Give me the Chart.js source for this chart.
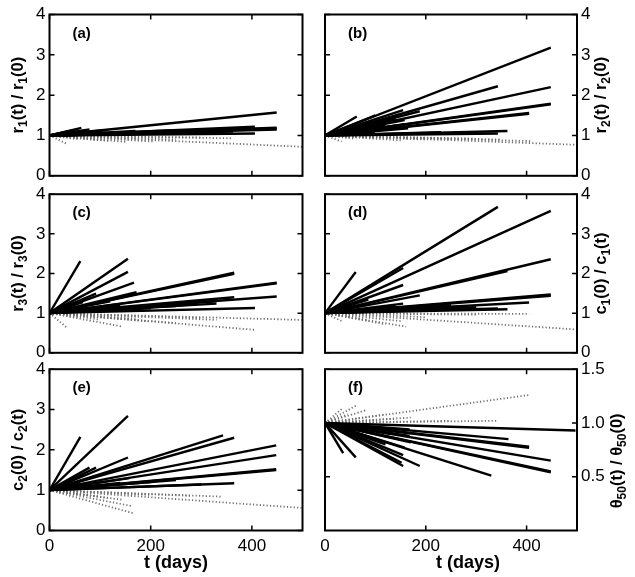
<!DOCTYPE html>
<html>
<head>
<meta charset="utf-8">
<script src="https://cdn.jsdelivr.net/npm/chart.js@4.4.1/dist/chart.umd.min.js"></script>
<style>
  body { margin: 0; background: #fff; }
  #page { position: relative; width: 635px; height: 577px; overflow: hidden; }
  .cell { position: absolute; }
</style>
</head>
<body>
<div id="page">
  <div class="cell" style="left:0;top:0;width:318px;height:190px"><canvas id="pa"></canvas></div>
  <div class="cell" style="left:306px;top:0;width:329px;height:190px"><canvas id="pb"></canvas></div>
  <div class="cell" style="left:0;top:180px;width:318px;height:187px"><canvas id="pc"></canvas></div>
  <div class="cell" style="left:306px;top:180px;width:329px;height:187px"><canvas id="pd"></canvas></div>
  <div class="cell" style="left:0;top:355px;width:318px;height:222px"><canvas id="pe"></canvas></div>
  <div class="cell" style="left:306px;top:355px;width:329px;height:222px"><canvas id="pf"></canvas></div>
</div>
<script>
// every run starts at t = 0 with ratio 1
const T_START = 0;
const RATIO_START = 1;

const xTicks = [0, 200, 400];
const yTicks = [0, 1, 2, 3, 4];
const yTicksF = [0.5, 1.0, 1.5];

// (a) r1(t)/r1(0)
const a_days = [449, 449, 449, 406, 406, 363, 330, 250, 165, 100, 79, 63, 40, 449, 406, 300, 200, 150, 130, 70, 170, 110, 90, 50];
const a_ratio = [1.57, 1.19, 1.15, 1.22, 1.05, 1.10, 1.12, 1.13, 1.08, 1.10, 1.15, 1.19, 1.10, 1.17, 1.18, 1.08, 1.05, 1.07, 1.06, 1.12, 1.11, 1.13, 1.09, 1.14];
const a_dotDays = [500, 360, 300, 205, 152, 100, 60, 33, 250, 180, 120, 80];
const a_dotRatio = [0.72, 0.93, 0.95, 0.85, 0.84, 0.88, 0.90, 0.80, 0.90, 0.92, 0.86, 0.92];

// (b) r2(t)/r2(0)
const b_days = [448, 343, 448, 448, 405, 63, 362, 343, 155, 188, 158, 165, 86, 99, 100, 120, 60, 448, 405, 230, 140, 80, 160, 110];
const b_ratio = [3.18, 2.22, 2.20, 1.79, 1.56, 1.47, 1.11, 1.05, 1.63, 1.60, 1.38, 1.18, 1.30, 1.10, 1.50, 1.25, 1.20, 1.77, 1.54, 1.08, 1.42, 1.15, 1.28, 1.20];
const b_dotDays = [497, 408, 297, 198, 150, 100, 33, 350, 250, 60];
const b_dotRatio = [0.77, 0.86, 0.92, 0.90, 0.88, 0.93, 0.85, 0.90, 0.91, 0.92];

// (c) r3(t)/r3(0)
const c_days = [61, 155, 155, 167, 365, 449, 449, 365, 406, 330, 330, 290, 172, 92, 66, 120, 200, 365, 449, 250, 140, 100];
const c_ratio = [2.31, 2.37, 2.04, 1.77, 2.02, 1.77, 1.42, 1.40, 1.13, 1.24, 1.30, 1.22, 1.53, 1.49, 1.28, 1.30, 1.12, 1.99, 1.75, 1.18, 1.20, 1.10];
const c_dotDays = [498, 406, 330, 250, 198, 145, 99, 33, 300, 170, 60];
const c_dotRatio = [0.83, 0.58, 0.83, 0.75, 0.79, 0.66, 0.84, 0.65, 0.88, 0.86, 0.90];

// (d) c1(0)/c1(t)
const d_days = [343, 448, 448, 362, 61, 155, 155, 188, 448, 405, 362, 343, 155, 86, 250, 120, 300, 448, 200, 100, 140];
const d_ratio = [3.68, 3.58, 2.36, 2.06, 2.04, 2.14, 1.71, 1.45, 1.47, 1.27, 1.10, 1.12, 1.24, 1.34, 1.20, 1.15, 1.15, 1.44, 1.08, 1.12, 1.18];
const d_dotDays = [497, 405, 161, 150, 120, 86, 33, 300, 200, 60];
const d_dotRatio = [0.59, 0.98, 0.66, 0.80, 0.72, 0.82, 0.80, 0.96, 0.90, 0.88];

// (e) c2(0)/c2(t)
const e_days = [61, 155, 155, 343, 365, 448, 448, 448, 365, 79, 92, 158, 69, 120, 200, 100, 250, 448, 300, 140, 60];
const e_ratio = [2.32, 2.84, 1.81, 2.36, 2.30, 2.11, 1.87, 1.52, 1.17, 1.56, 1.56, 1.30, 1.39, 1.45, 1.20, 1.12, 1.25, 1.50, 1.14, 1.18, 1.20];
const e_dotDays = [498, 340, 200, 165, 165, 145, 99, 40, 280, 120, 70];
const e_dotRatio = [0.56, 0.84, 0.88, 0.43, 0.60, 0.76, 0.84, 0.92, 0.86, 0.80, 0.88];

// (f) theta50(t)/theta50(0)
const f_days = [497, 364, 405, 448, 448, 330, 188, 155, 152, 36, 61, 168, 168, 158, 155, 100, 120, 448, 405, 170, 130, 80];
const f_ratio = [0.93, 0.85, 0.77, 0.65, 0.54, 0.51, 0.60, 0.60, 0.63, 0.72, 0.68, 0.88, 0.94, 0.77, 0.70, 0.85, 0.80, 0.55, 0.78, 0.82, 0.90, 0.92];
const f_dotDays = [405, 340, 170, 120, 82, 61, 33, 250, 140, 45];
const f_dotRatio = [1.26, 1.02, 1.05, 1.08, 1.12, 1.16, 1.13, 1.02, 1.04, 1.08];

Chart.defaults.font.family = '"Liberation Sans", Arial, sans-serif';
Chart.defaults.color = '#000';

function segs(days, ratio, dotted) {
  return days.map((t, i) => ({
    data: [{x: T_START, y: RATIO_START}, {x: t, y: ratio[i]}],
    borderColor: dotted ? '#6e6e6e' : '#000',
    borderWidth: dotted ? 1.8 : 2.4,
    borderDash: dotted ? [1.2, 2.2] : [],
    pointRadius: 0,
    fill: false
  }));
}

// draws text with subscript runs; parts = [[text, isSub], ...]
function richText(ctx, parts, x, y, size, angle) {
  const sub = Math.round(size * 0.7);
  ctx.save();
  ctx.translate(x, y);
  ctx.rotate(angle);
  ctx.textBaseline = 'middle';
  ctx.textAlign = 'left';
  let total = 0;
  parts.forEach(p => {
    ctx.font = 'bold ' + (p[1] ? sub : size) + 'px "Liberation Sans", Arial';
    total += ctx.measureText(p[0]).width;
  });
  let cx = -total / 2;
  parts.forEach(p => {
    ctx.font = 'bold ' + (p[1] ? sub : size) + 'px "Liberation Sans", Arial';
    ctx.fillText(p[0], cx, p[1] ? size * 0.32 - 2 : -2);
    cx += ctx.measureText(p[0]).width;
  });
  ctx.restore();
}

const framePlugin = {
  id: 'frame',
  afterDatasetsDraw(chart, args, o) {
    const {ctx, chartArea: ca, scales} = chart;
    ctx.save();
    ctx.strokeStyle = '#000';
    ctx.lineWidth = 1.5;
    ctx.beginPath();
    scales.x.ticks.forEach(t => {
      const px = scales.x.getPixelForValue(t.value);
      ctx.moveTo(px, ca.bottom); ctx.lineTo(px, ca.bottom - 5);
      ctx.moveTo(px, ca.top); ctx.lineTo(px, ca.top + 5);
    });
    scales.y.ticks.forEach(t => {
      const py = scales.y.getPixelForValue(t.value);
      ctx.moveTo(ca.left, py); ctx.lineTo(ca.left + 5, py);
      ctx.moveTo(ca.right, py); ctx.lineTo(ca.right - 5, py);
    });
    ctx.stroke();
    ctx.lineWidth = 2;
    ctx.strokeRect(ca.left, ca.top, ca.width, ca.height);

    ctx.fillStyle = '#000';
    ctx.font = 'bold 15px "Liberation Sans", Arial';
    ctx.textBaseline = 'middle';
    ctx.fillText(o.tag, ca.left + 23, ca.top + 19);

    const ty = (ca.top + ca.bottom) / 2 + (o.yTitleDy || 0);
    const tx = o.side === 'left' ? ca.left - 29.5 : ca.right + (o.yTitleDx || 26);
    richText(ctx, o.yTitle, tx, ty, 16.5, -Math.PI / 2);

    if (o.xTitle) {
      ctx.font = 'bold 18px "Liberation Sans", Arial';
      ctx.textAlign = 'center';
      ctx.fillText(o.xTitle, (ca.left + ca.right) / 2 + (o.xTitleDx || 0), ca.bottom + 33);
    }
    ctx.restore();
  }
};

function panel(id, p) {
  const right = p.side === 'right';
  new Chart(document.getElementById(id), {
    type: 'line',
    data: {
      datasets: segs(p.days, p.ratio, false).concat(segs(p.dotDays, p.dotRatio, true))
    },
    options: {
      responsive: true,
      maintainAspectRatio: false,
      animation: false,
      events: [],
      layout: {padding: {top: p.padTop, left: right ? 19 : 0, right: right ? 0 : 15.5, bottom: 0}},
      plugins: {
        legend: {display: false},
        tooltip: {enabled: false},
        frame: {tag: p.tag, side: p.side, yTitle: p.yTitle, xTitle: p.xTitle,
                xTitleDx: p.xTitleDx, yTitleDx: p.yTitleDx, yTitleDy: p.yTitleDy}
      },
      scales: {
        x: {
          type: 'linear', min: 0, max: 500,
          afterBuildTicks: s => { s.ticks = xTicks.map(v => ({value: v})); },
          afterFit: s => { s.height = p.xHeight; },
          grid: {display: false, drawTicks: false},
          border: {display: false},
          ticks: {display: !!p.xTitle, autoSkip: false, maxRotation: 0, padding: 6, font: {size: 17}}
        },
        y: {
          type: 'linear', position: p.side, min: 0, max: p.yMax,
          afterBuildTicks: s => { s.ticks = p.yTicks.map(v => ({value: v})); },
          afterFit: s => { s.width = right ? 58 : 49.5; },
          grid: {display: false, drawTicks: false},
          border: {display: false},
          ticks: {autoSkip: false, padding: 4, font: {size: 17},
                  callback: v => p.yMax < 2 ? v.toFixed(1) : String(v)}
        }
      }
    },
    plugins: [framePlugin]
  });
}

panel('pa', {tag: '(a)', side: 'left', padTop: 14.5, xHeight: 14, yMax: 4, yTicks: yTicks,
  days: a_days, ratio: a_ratio, dotDays: a_dotDays, dotRatio: a_dotRatio,
  yTitle: [['r', 0], ['1', 1], ['(t) / r', 0], ['1', 1], ['(0)', 0]]});
panel('pb', {tag: '(b)', side: 'right', padTop: 14.5, xHeight: 14, yMax: 4, yTicks: yTicks,
  days: b_days, ratio: b_ratio, dotDays: b_dotDays, dotRatio: b_dotRatio,
  yTitle: [['r', 0], ['2', 1], ['(t) / r', 0], ['2', 1], ['(0)', 0]]});
panel('pc', {tag: '(c)', side: 'left', padTop: 12.5, xHeight: 13, yMax: 4, yTicks: yTicks,
  days: c_days, ratio: c_ratio, dotDays: c_dotDays, dotRatio: c_dotRatio,
  yTitle: [['r', 0], ['3', 1], ['(t) / r', 0], ['3', 1], ['(0)', 0]]});
panel('pd', {tag: '(d)', side: 'right', padTop: 12.5, xHeight: 13, yMax: 4, yTicks: yTicks,
  days: d_days, ratio: d_ratio, dotDays: d_dotDays, dotRatio: d_dotRatio,
  yTitle: [['c', 0], ['1', 1], ['(0) / c', 0], ['1', 1], ['(t)', 0]]});
panel('pe', {tag: '(e)', side: 'left', padTop: 13.5, xHeight: 46.5, yMax: 4, yTicks: yTicks,
  days: e_days, ratio: e_ratio, dotDays: e_dotDays, dotRatio: e_dotRatio, xTitle: 't (days)',
  yTitle: [['c', 0], ['2', 1], ['(0) / c', 0], ['2', 1], ['(t)', 0]]});
panel('pf', {tag: '(f)', side: 'right', padTop: 13.5, xHeight: 46.5, yMax: 1.5, yTicks: yTicksF,
  days: f_days, ratio: f_ratio, dotDays: f_dotDays, dotRatio: f_dotRatio, xTitle: 't (days)',
  xTitleDx: 17, yTitleDx: 42, yTitleDy: 11,
  yTitle: [['θ', 0], ['50', 1], ['(t) / θ', 0], ['50', 1], ['(0)', 0]]});
</script>
</body>
</html>
